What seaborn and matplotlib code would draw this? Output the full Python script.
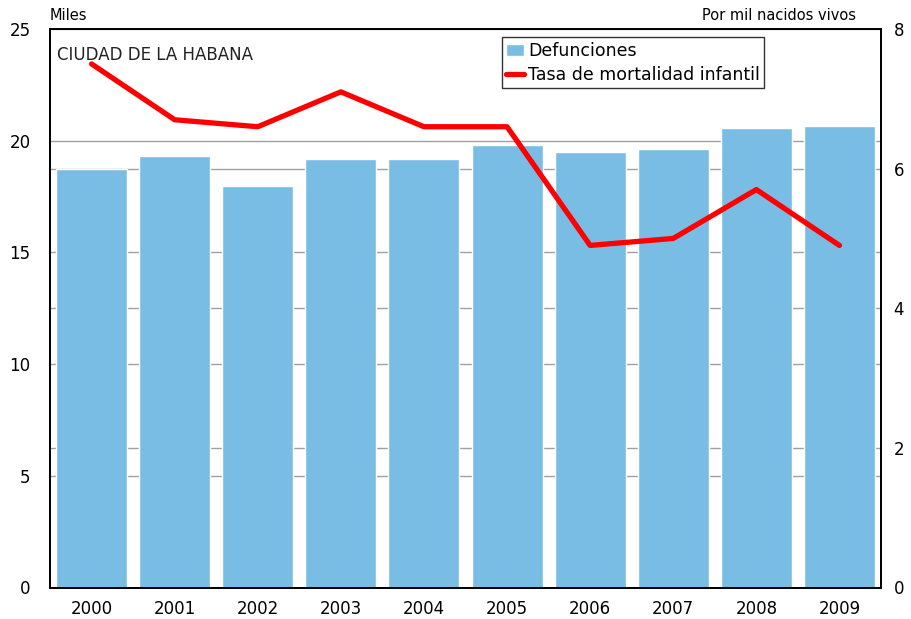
import matplotlib
matplotlib.use("Agg")
import matplotlib.pyplot as plt
import seaborn as sns
import pandas as pd
import numpy as np

# data
years = ["2000", "2001", "2002", "2003", "2004", "2005", "2006", "2007", "2008", "2009"]
defunciones = [18.75, 19.3, 17.95, 19.2, 19.2, 19.8, 19.5, 19.65, 20.55, 20.65]  # miles
tasa_mortalidad = [7.5, 6.7, 6.6, 7.1, 6.6, 6.6, 4.9, 5.0, 5.7, 4.9]  # por mil nacidos vivos

left_ticks = [0, 5, 10, 15, 20, 25]
right_ticks = [0, 2, 4, 6, 8]

bar_color = "#79bce4"
line_color = "#ff0000"

df = pd.DataFrame({"year": years, "defunciones": defunciones, "tasa": tasa_mortalidad})
df["pos"] = np.arange(len(df))

sns.set_style("white")
plt.rcParams["font.family"] = ["DejaVu Sans"]
plt.rcParams["text.color"] = "black"
plt.rcParams["xtick.color"] = "black"
plt.rcParams["ytick.color"] = "black"

fig = plt.figure(figsize=(9.12, 6.19), dpi=100)
ax = fig.add_axes([50 / 912, 31.5 / 619, 831 / 912, 558.5 / 619])

sns.barplot(data=df, x="year", y="defunciones", color=bar_color, saturation=1,
            width=0.855, ax=ax, label="Defunciones", zorder=2)
if ax.get_legend() is not None:
    ax.get_legend().remove()
ax.set_xlim(-0.5, 9.5)
ax.set_ylim(0, 25)
ax.set_yticks(left_ticks)
# grid lines also at the right axis ticks
ax.set_yticks([t * 25 / 8 for t in right_ticks[1:-1]], minor=True)
ax.grid(axis="y", which="both", color="#a0a0a0", linewidth=1.0, zorder=0)
ax.set_axisbelow(True)
ax.set_xlabel("")
ax.set_ylabel("")
ax.tick_params(axis="y", which="both", length=0, pad=14, labelsize=12)
ax.tick_params(axis="x", length=0, pad=9, labelsize=12)

ax2 = ax.twinx()
sns.lineplot(data=df, x="pos", y="tasa", color=line_color, linewidth=3.8, ax=ax2,
             label="Tasa de mortalidad infantil", legend=False)
ax2.set_ylim(0, 8)
ax2.set_yticks(right_ticks)
ax2.set_xlim(-0.5, 9.5)
ax2.set_ylabel("")
ax2.set_xlabel("")
ax2.tick_params(axis="y", length=0, pad=9, labelsize=12)

for a in (ax, ax2):
    for s in a.spines.values():
        s.set_color("black")
        s.set_linewidth(1.3)

# legend
h1, l1 = ax.get_legend_handles_labels()
h2, l2 = ax2.get_legend_handles_labels()
leg = ax2.legend(h1 + h2, l1 + l2, loc="upper left", bbox_to_anchor=(0.544, 0.985),
                 fontsize=12.5, frameon=True, fancybox=False, edgecolor="black",
                 handlelength=1.0, handleheight=0.7, handletextpad=0.25,
                 borderpad=0.25, labelspacing=0.35, borderaxespad=0)
leg.get_frame().set_linewidth(1.0)

ax.text(0.009, 0.97, "CIUDAD DE LA HABANA", transform=ax.transAxes, fontsize=12,
        ha="left", va="top", color="#222222")
ax.text(0.0, 1.025, "Miles", transform=ax.transAxes, fontsize=10.5,
        ha="left", va="center")
ax.text(0.97, 1.025, "Por mil nacidos vivos", transform=ax.transAxes, fontsize=10.5,
        ha="right", va="center")

plt.savefig("out.png", dpi=100)
